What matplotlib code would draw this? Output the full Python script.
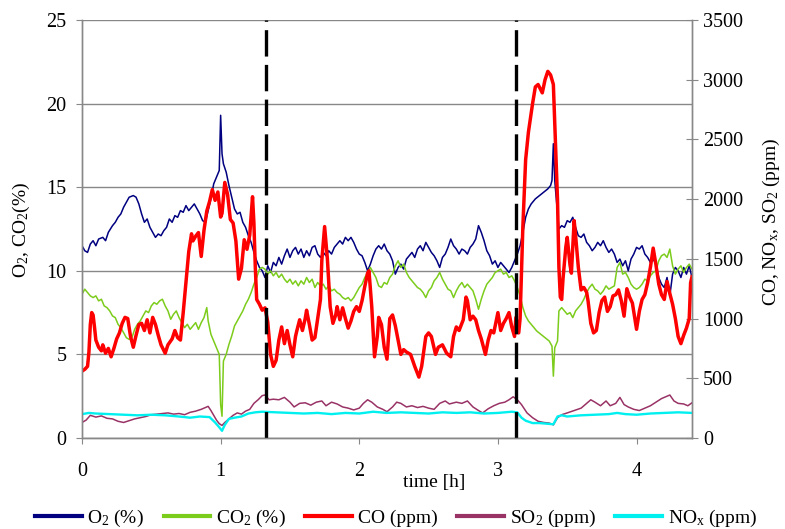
import matplotlib
matplotlib.use("Agg")
import matplotlib.pyplot as plt
from matplotlib.lines import Line2D

plt.rcParams['font.family'] = ['Liberation Serif', 'DejaVu Serif']
plt.rcParams['mathtext.fontset'] = 'custom'
plt.rcParams['mathtext.rm'] = 'Liberation Serif'
plt.rcParams['mathtext.it'] = 'Liberation Serif:italic'
plt.rcParams['lines.scale_dashes'] = False

# ---------------- data ----------------
o2_t = [0.00,0.02,0.04,0.06,0.08,0.10,0.12,0.15,0.17,0.19,0.22,0.24,0.26,0.28,0.30,0.32,0.34,0.37,0.39,0.41,
        0.43,0.45,0.47,0.49,0.51,0.53,0.55,0.57,0.59,0.61,0.63,0.65,0.67,0.69,0.71,0.73,0.75,0.77,0.79,0.81,
        0.83,0.85,0.87,0.89,0.91,0.93,0.95,0.97,0.99,1.00,1.01,1.02,1.04,1.06,1.08,1.10,1.12,1.14,1.16,1.18,
        1.20,1.22,1.24,1.26,1.28,1.30,1.32,1.34,1.36,1.38,1.40,1.42,1.44,1.46,1.48,1.50,1.52,1.54,1.56,1.58,
        1.60,1.62,1.64,1.66,1.68,1.70,1.72,1.74,1.76,1.78,1.80,1.82,1.84,1.86,1.88,1.90,1.92,1.94,1.96,1.98,
        2.00,2.02,2.04,2.06,2.08,2.10,2.12,2.14,2.16,2.18,2.20,2.22,2.24,2.26,2.28,2.30,2.32,2.34,2.36,2.38,
        2.40,2.42,2.44,2.46,2.48,2.50,2.52,2.54,2.56,2.58,2.60,2.62,2.64,2.66,2.68,2.70,2.72,2.74,2.76,2.78,
        2.80,2.82,2.84,2.86,2.88,2.90,2.92,2.94,2.96,2.98,3.00,3.02,3.04,3.06,3.08,3.10,3.12,3.14,3.16,3.18,
        3.20,3.22,3.24,3.27,3.30,3.33,3.36,3.38,3.39,3.40,3.41,3.42,3.44,3.46,3.48,3.50,3.52,3.54,3.56,3.58,
        3.60,3.62,3.64,3.66,3.68,3.70,3.72,3.74,3.76,3.78,3.80,3.82,3.84,3.86,3.88,3.90,3.92,3.94,3.96,3.98,
        4.00,4.02,4.04,4.06,4.08,4.10,4.12,4.14,4.16,4.18,4.20,4.22,4.24,4.26,4.28,4.30,4.32,4.34,4.36,4.38,4.40]
o2_v = [11.5,11.2,11.1,11.6,11.8,11.5,11.9,12.0,11.8,12.3,12.7,12.9,13.2,13.4,13.8,14.1,14.4,14.5,14.4,14.0,
        13.4,12.9,13.1,12.6,12.3,12.0,12.2,12.1,12.4,12.6,13.1,12.9,13.3,13.2,13.6,13.5,13.9,13.6,13.8,14.0,
        13.7,13.4,13.0,12.9,13.6,14.3,15.2,15.6,16.0,19.3,17.0,16.4,15.9,15.1,14.4,13.7,13.4,13.5,12.9,12.6,
        12.1,11.7,11.1,10.6,10.2,10.0,9.6,10.3,9.9,10.5,10.3,10.8,10.4,10.9,11.3,10.8,11.2,11.4,11.0,11.3,
        10.8,11.2,10.9,11.4,11.5,11.0,10.8,11.1,10.9,11.2,11.0,11.4,11.6,11.8,11.6,12.0,11.8,12.0,11.7,11.3,
        11.0,10.9,10.5,10.0,10.4,10.9,11.3,11.5,11.3,11.6,11.2,11.0,10.6,9.8,10.2,10.4,10.1,10.7,10.9,11.1,
        10.8,11.3,11.5,11.2,11.7,11.4,11.1,10.9,10.6,10.2,10.8,11.0,11.4,11.9,11.5,11.3,11.0,11.3,11.2,11.0,
        11.4,11.6,11.9,12.7,12.3,11.8,11.2,10.9,10.4,10.6,10.2,10.5,10.3,10.1,9.9,10.2,10.6,11.0,11.5,12.3,
        13.2,13.7,14.0,14.3,14.5,14.7,14.9,15.1,15.4,17.6,15.4,14.4,12.5,12.7,12.6,13.0,12.9,13.2,12.6,12.1,
        12.0,12.2,11.7,11.5,11.2,11.4,11.7,11.5,11.8,11.4,11.1,11.3,11.0,10.5,10.7,10.3,10.6,10.0,10.7,11.0,
        11.4,11.3,11.5,11.0,10.8,10.5,10.7,10.4,9.6,9.2,9.0,9.6,8.5,9.8,10.2,10.0,9.6,10.2,9.8,10.3,9.6]

co2_t = [0.00,0.02,0.04,0.06,0.08,0.10,0.12,0.14,0.16,0.18,0.20,0.22,0.24,0.26,0.28,0.30,0.32,0.34,0.36,0.38,
         0.40,0.42,0.44,0.46,0.48,0.50,0.52,0.54,0.56,0.58,0.60,0.62,0.64,0.66,0.68,0.70,0.72,0.74,0.76,0.78,
         0.80,0.82,0.84,0.86,0.88,0.90,0.91,0.93,0.95,0.97,0.99,1.00,1.01,1.02,1.04,1.06,1.08,1.10,1.12,1.14,
         1.16,1.18,1.20,1.22,1.24,1.26,1.28,1.30,1.32,1.34,1.36,1.38,1.40,1.42,1.44,1.46,1.48,1.50,1.52,1.54,
         1.56,1.58,1.60,1.62,1.64,1.66,1.68,1.70,1.72,1.74,1.76,1.78,1.80,1.82,1.84,1.86,1.88,1.90,1.92,1.94,
         1.96,1.98,2.00,2.02,2.04,2.06,2.08,2.10,2.12,2.14,2.16,2.18,2.20,2.22,2.24,2.26,2.28,2.30,2.32,2.34,
         2.36,2.38,2.40,2.42,2.44,2.46,2.48,2.50,2.52,2.54,2.56,2.58,2.60,2.62,2.64,2.66,2.68,2.70,2.72,2.74,
         2.76,2.78,2.80,2.82,2.84,2.86,2.88,2.90,2.92,2.94,2.96,2.98,3.00,3.02,3.04,3.06,3.08,3.10,3.12,3.14,
         3.16,3.18,3.20,3.22,3.25,3.28,3.31,3.34,3.37,3.39,3.40,3.41,3.43,3.44,3.46,3.48,3.50,3.52,3.54,3.56,
         3.58,3.60,3.62,3.64,3.66,3.68,3.70,3.72,3.74,3.76,3.78,3.80,3.82,3.84,3.86,3.88,3.90,3.92,3.94,3.96,
         3.98,4.00,4.02,4.04,4.06,4.08,4.10,4.12,4.14,4.16,4.18,4.20,4.22,4.24,4.26,4.28,4.30,4.32,4.34,4.36,
         4.38,4.40]
co2_v = [8.6,8.9,8.7,8.5,8.4,8.5,8.2,8.3,7.9,7.8,7.6,7.3,7.2,6.8,6.6,6.3,6.0,5.9,6.0,6.5,
         6.8,7.0,7.3,7.6,7.5,7.9,8.1,8.0,8.2,8.3,7.9,7.6,7.1,7.4,7.6,7.2,6.9,6.6,6.8,6.5,
         6.7,6.9,6.5,6.9,7.2,7.8,7.0,6.2,5.8,5.4,5.0,2.0,1.3,4.6,5.0,5.6,6.1,6.7,7.0,7.3,
         7.6,8.0,8.3,8.7,9.2,9.6,10.1,10.2,10.1,9.8,10.0,9.7,9.9,9.6,9.8,9.5,9.3,9.5,9.2,9.4,
         9.1,9.4,9.2,9.6,9.3,9.5,9.0,9.3,9.1,9.2,8.9,9.1,8.8,8.9,8.7,8.6,8.4,8.3,8.4,8.2,
         8.4,8.7,9.0,9.2,9.6,9.9,10.2,9.9,9.6,9.1,9.0,9.3,9.2,9.6,9.8,10.3,10.6,10.2,10.4,9.9,
         9.6,9.4,9.2,9.0,8.9,8.7,8.4,8.8,9.0,9.4,9.6,9.9,9.5,9.2,8.9,8.8,8.4,8.8,9.1,9.3,
         9.0,9.2,9.0,8.8,8.3,7.7,8.3,8.8,9.2,9.4,9.6,9.9,10.0,10.1,9.8,9.9,9.6,9.7,9.4,9.0,
         8.5,7.8,7.3,7.0,6.7,6.4,6.2,6.0,5.8,5.5,3.7,5.4,5.8,7.6,7.8,7.6,7.4,7.5,7.2,7.6,
         7.8,8.0,8.3,8.7,9.0,9.2,8.9,8.8,8.6,8.8,9.1,8.9,9.0,9.1,10.2,10.5,9.8,9.9,9.6,9.2,
         9.0,8.9,9.0,9.2,9.5,9.4,9.7,9.9,10.0,10.6,10.9,11.0,10.8,11.3,10.3,9.8,10.1,10.3,9.9,10.2,
         10.4,10.1]

co_t = [0.00,0.02,0.04,0.05,0.06,0.07,0.08,0.09,0.10,0.12,0.14,0.15,0.17,0.19,0.21,0.23,0.25,0.27,0.29,0.31,
        0.33,0.35,0.37,0.39,0.41,0.43,0.45,0.47,0.49,0.51,0.53,0.55,0.57,0.60,0.62,0.65,0.67,0.69,0.71,0.73,
        0.75,0.77,0.79,0.80,0.82,0.84,0.86,0.88,0.90,0.92,0.94,0.96,0.98,1.00,1.01,1.03,1.05,1.07,1.09,1.11,
        1.13,1.15,1.17,1.19,1.21,1.23,1.24,1.25,1.26,1.28,1.30,1.32,1.34,1.36,1.38,1.40,1.42,1.44,1.46,1.48,
        1.50,1.52,1.54,1.55,1.57,1.59,1.61,1.62,1.64,1.66,1.68,1.70,1.72,1.73,1.75,1.77,1.79,1.81,1.83,1.84,
        1.86,1.88,1.90,1.92,1.94,1.96,1.98,2.00,2.02,2.04,2.06,2.07,2.09,2.11,2.13,2.14,2.16,2.18,2.20,2.22,
        2.24,2.26,2.28,2.30,2.32,2.34,2.37,2.40,2.43,2.45,2.48,2.50,2.52,2.55,2.57,2.60,2.63,2.66,2.68,2.70,
        2.72,2.75,2.77,2.78,2.80,2.82,2.84,2.86,2.88,2.91,2.93,2.95,2.97,3.00,3.02,3.04,3.06,3.08,3.10,3.12,
        3.13,3.15,3.16,3.17,3.18,3.20,3.22,3.25,3.27,3.29,3.32,3.34,3.36,3.38,3.40,3.42,3.43,3.44,3.45,3.46,
        3.47,3.49,3.50,3.52,3.53,3.55,3.56,3.58,3.60,3.62,3.64,3.65,3.67,3.69,3.71,3.73,3.75,3.77,3.79,3.81,
        3.83,3.85,3.87,3.89,3.91,3.93,3.95,3.97,4.00,4.02,4.04,4.06,4.08,4.10,4.12,4.14,4.16,4.18,4.20,4.22,
        4.24,4.26,4.28,4.30,4.32,4.34,4.36,4.38,4.39,4.40]
co_v = [560,575,600,720,950,1050,1030,930,820,760,730,780,710,750,680,750,830,880,960,1010,
        1000,850,760,860,950,960,900,990,880,1010,950,860,780,710,780,830,900,840,820,1050,
        1300,1560,1710,1650,1690,1720,1520,1740,1900,1980,2080,1990,2060,1850,1880,2140,2040,1830,1800,1650,
        1330,1420,1660,1580,1700,2020,1800,1430,1160,1120,1070,1090,970,700,600,650,820,930,790,900,
        780,680,850,900,990,900,1000,1070,950,820,840,1000,1160,1490,1770,1500,1100,960,1030,1100,
        990,1090,1000,920,980,1060,1100,1060,1150,1270,1380,1400,1100,680,850,1010,950,760,660,1000,
        1030,940,820,700,740,720,700,600,510,600,850,880,850,700,760,780,710,680,850,930,
        900,990,1180,1150,990,1020,990,900,830,700,820,900,880,1050,900,960,1000,1050,930,850,
        1010,880,1000,1400,1770,2330,2560,2800,2940,2960,2890,3000,3070,3040,2960,2300,1990,1430,1180,1160,
        1340,1600,1680,1450,1380,1820,1700,1430,1240,1260,1220,1150,960,880,900,1050,1150,1180,1060,1100,
        1190,1200,1240,1150,1020,1250,1180,1130,910,1060,1160,1200,1300,1430,1590,1450,1290,1200,1160,1310,
        1210,1120,1000,850,790,860,920,1000,1300,1350]

so2_t = [0.00,0.03,0.06,0.10,0.14,0.18,0.22,0.26,0.30,0.34,0.38,0.42,0.46,0.50,0.54,0.58,0.62,0.66,0.70,0.74,
         0.78,0.82,0.86,0.89,0.91,0.93,0.95,0.97,0.99,1.01,1.03,1.06,1.09,1.12,1.15,1.18,1.21,1.24,1.27,1.30,
         1.32,1.35,1.38,1.42,1.46,1.50,1.53,1.57,1.61,1.65,1.69,1.73,1.76,1.80,1.84,1.88,1.92,1.96,2.00,2.03,
         2.06,2.09,2.13,2.17,2.20,2.24,2.27,2.30,2.34,2.38,2.42,2.46,2.50,2.54,2.58,2.62,2.65,2.70,2.74,2.78,
         2.82,2.86,2.89,2.93,2.97,3.01,3.05,3.08,3.11,3.14,3.17,3.21,3.25,3.29,3.33,3.37,3.40,3.43,3.46,3.50,
         3.55,3.60,3.64,3.67,3.70,3.74,3.78,3.81,3.85,3.88,3.91,3.94,3.98,4.02,4.06,4.10,4.14,4.18,4.21,4.24,
         4.27,4.30,4.34,4.37,4.40]
so2_v = [130,150,190,175,185,165,160,140,130,145,160,170,180,195,200,205,210,200,205,195,
         215,225,240,255,265,230,190,150,120,105,130,160,190,210,200,225,240,290,320,355,
         360,320,325,320,340,300,260,290,295,275,300,310,270,300,285,260,250,235,250,290,
         320,300,260,240,220,260,300,290,260,270,255,265,250,240,290,310,285,300,290,310,
         260,230,210,245,270,290,300,320,345,320,280,210,170,140,130,125,110,170,195,210,
         230,250,290,320,300,270,310,270,290,340,280,260,240,230,250,270,300,330,345,360,
         310,290,285,270,295]

nox_t = [0.00,0.05,0.10,0.20,0.30,0.40,0.50,0.60,0.70,0.78,0.85,0.92,0.96,0.99,1.01,1.03,1.06,1.10,1.15,1.20,
         1.25,1.30,1.40,1.50,1.60,1.70,1.80,1.90,2.00,2.10,2.20,2.30,2.40,2.50,2.60,2.70,2.80,2.90,3.00,3.10,
         3.14,3.17,3.20,3.25,3.30,3.35,3.40,3.43,3.46,3.50,3.60,3.70,3.80,3.86,3.92,4.00,4.10,4.20,4.30,4.40]
nox_v = [200,210,205,200,195,190,195,190,180,170,180,175,130,90,60,110,160,170,180,205,
         215,220,215,210,205,210,200,210,205,220,210,215,210,205,215,210,215,205,210,220,
         215,170,145,125,125,120,115,180,190,180,190,195,200,210,200,195,205,210,215,210]

phase_changes = [1.33, 3.13]

x_ticks = [0, 1, 2, 3, 4]
left_ticks = [0, 5, 10, 15, 20, 25]
right_ticks = [0, 500, 1000, 1500, 2000, 2500, 3000, 3500]

# ---------------- figure ----------------
W, H = 785, 529
fig = plt.figure(figsize=(W / 100, H / 100), dpi=100)
L, R, T, B = 82, 692, 20, 438
ax = fig.add_axes([L / W, 1 - B / H, (R - L) / W, (B - T) / H])
ax2 = ax.twinx()

gray = '#888888'
c_o2 = '#000080'
c_co2 = '#7ccc1c'
c_co = '#ff0000'
c_so2 = '#993366'
c_nox = '#00f0f0'

ax.set_xlim(0, 4.40)
ax.set_ylim(0, 25)
ax2.set_ylim(0, 3500)

ax.set_yticks(left_ticks)
ax.set_xticks(x_ticks)
ax2.set_yticks(right_ticks)
ax.grid(axis='y', color=gray, lw=1.0)
ax.set_axisbelow(True)

ax.plot(o2_t, o2_v, color=c_o2, lw=1.1)
ax.plot(co2_t, co2_v, color=c_co2, lw=1.1)
ax2.plot(so2_t, so2_v, color=c_so2, lw=1.1)
ax2.plot(nox_t, nox_v, color=c_nox, lw=1.7)
ax2.plot(co_t, co_v, color=c_co, lw=2.5)
for xc in phase_changes:
    ax2.axvline(xc, color='black', lw=2.4, linestyle=(0, (19, 6)))

for a in (ax, ax2):
    for s in a.spines.values():
        s.set_color(gray)
        s.set_linewidth(1.0)
    a.spines['top'].set_visible(False)

fs = 14.5
ax.tick_params(axis='y', direction='out', length=4, color=gray, labelsize=fs, pad=7)
ax.tick_params(axis='x', direction='out', length=4, color=gray, labelsize=fs, pad=13)
ax2.tick_params(axis='y', direction='inout', length=8, color=gray, labelsize=fs, pad=4)

fig.text(21 / W, 1 - 230 / H, r'O$_2$, CO$_2$(%)', rotation=90, ha='center', va='center', fontsize=14)
fig.text(771 / W, 1 - 222 / H, r'CO, NO$_\mathrm{x}$, SO$_2$ (ppm)', rotation=90, ha='center', va='center', fontsize=14)
fig.text(434 / W, 1 - 483 / H, 'time [h]', ha='center', va='center', fontsize=14)

handles = [Line2D([], [], color=c_o2, lw=3),
           Line2D([], [], color=c_co2, lw=3),
           Line2D([], [], color=c_co, lw=3),
           Line2D([], [], color=c_so2, lw=3),
           Line2D([], [], color=c_nox, lw=3)]
labels = [r'O$_2$ (%)', r'CO$_2$ (%)', 'CO (ppm)', r'SO$_2$ (ppm)', r'NO$_\mathrm{x}$ (ppm)']
fig.legend(handles, labels, ncol=5, loc='center', bbox_to_anchor=(396 / W, 1 - 518 / H),
           frameon=False, fontsize=14, handlelength=2.4, handletextpad=0.3, columnspacing=1.0)

fig.savefig('out.png', dpi=100)
